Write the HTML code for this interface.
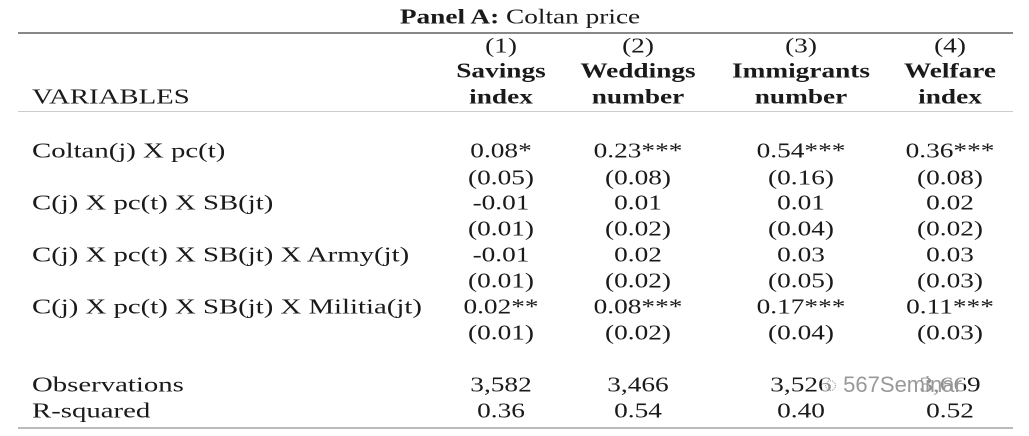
<!DOCTYPE html>
<html><head><meta charset="utf-8"><style>
body{margin:0;width:1029px;height:436px;background:#fff;overflow:hidden;position:relative;font-family:"Liberation Serif",serif;color:#1a1a1a;font-size:21px}
.t{position:absolute;white-space:nowrap;line-height:1;transform:translate(-50%,-50%) scaleX(1.3)}
.l{position:absolute;white-space:nowrap;line-height:1;transform:translateY(-50%) scaleX(1.37);transform-origin:0 50%;left:32px}
.b{font-weight:bold}
.hr{position:absolute;left:18px;width:995px;background:#888}
</style></head><body>
<div class="t" style="left:520px;top:17px"><span class="b">Panel A:</span> Coltan price</div>
<div class="hr" style="top:32px;height:2px"></div>
<div class="hr" style="top:111px;height:1px;background:#ccc"></div>
<div class="hr" style="top:427px;height:2px;background:#bbb"></div>
<div class="l" style="top:97px">VARIABLES</div>
<div class="t" style="left:501px;top:46px">(1)</div>
<div class="t b" style="left:501px;top:71px">Savings</div>
<div class="t b" style="left:501px;top:97px">index</div>
<div class="t" style="left:638px;top:46px">(2)</div>
<div class="t b" style="left:638px;top:71px">Weddings</div>
<div class="t b" style="left:638px;top:97px">number</div>
<div class="t" style="left:801px;top:46px">(3)</div>
<div class="t b" style="left:801px;top:71px">Immigrants</div>
<div class="t b" style="left:801px;top:97px">number</div>
<div class="t" style="left:950px;top:46px">(4)</div>
<div class="t b" style="left:950px;top:71px">Welfare</div>
<div class="t b" style="left:950px;top:97px">index</div>

<div class="l" style="top:151px">Coltan(j) X pc(t)</div>
<div class="t" style="left:501px;top:151px">0.08*</div>
<div class="t" style="left:638px;top:151px">0.23***</div>
<div class="t" style="left:801px;top:151px">0.54***</div>
<div class="t" style="left:950px;top:151px">0.36***</div>
<div class="t" style="left:501px;top:178px">(0.05)</div>
<div class="t" style="left:638px;top:178px">(0.08)</div>
<div class="t" style="left:801px;top:178px">(0.16)</div>
<div class="t" style="left:950px;top:178px">(0.08)</div>

<div class="l" style="top:203px">C(j) X pc(t) X SB(jt)</div>
<div class="t" style="left:501px;top:203px">-0.01</div>
<div class="t" style="left:638px;top:203px">0.01</div>
<div class="t" style="left:801px;top:203px">0.01</div>
<div class="t" style="left:950px;top:203px">0.02</div>
<div class="t" style="left:501px;top:229px">(0.01)</div>
<div class="t" style="left:638px;top:229px">(0.02)</div>
<div class="t" style="left:801px;top:229px">(0.04)</div>
<div class="t" style="left:950px;top:229px">(0.02)</div>

<div class="l" style="top:255px">C(j) X pc(t) X SB(jt) X Army(jt)</div>
<div class="t" style="left:501px;top:255px">-0.01</div>
<div class="t" style="left:638px;top:255px">0.02</div>
<div class="t" style="left:801px;top:255px">0.03</div>
<div class="t" style="left:950px;top:255px">0.03</div>
<div class="t" style="left:501px;top:281px">(0.01)</div>
<div class="t" style="left:638px;top:281px">(0.02)</div>
<div class="t" style="left:801px;top:281px">(0.05)</div>
<div class="t" style="left:950px;top:281px">(0.03)</div>

<div class="l" style="top:307px">C(j) X pc(t) X SB(jt) X Militia(jt)</div>
<div class="t" style="left:501px;top:307px">0.02**</div>
<div class="t" style="left:638px;top:307px">0.08***</div>
<div class="t" style="left:801px;top:307px">0.17***</div>
<div class="t" style="left:950px;top:307px">0.11***</div>
<div class="t" style="left:501px;top:333px">(0.01)</div>
<div class="t" style="left:638px;top:333px">(0.02)</div>
<div class="t" style="left:801px;top:333px">(0.04)</div>
<div class="t" style="left:950px;top:333px">(0.03)</div>

<div class="l" style="top:385px">Observations</div>
<div class="t" style="left:501px;top:385px">3,582</div>
<div class="t" style="left:638px;top:385px">3,466</div>
<div class="t" style="left:801px;top:385px">3,526</div>
<div class="t" style="left:950px;top:385px">3,669</div>
<div class="l" style="top:411px">R-squared</div>
<div class="t" style="left:501px;top:411px">0.36</div>
<div class="t" style="left:638px;top:411px">0.54</div>
<div class="t" style="left:801px;top:411px">0.40</div>
<div class="t" style="left:950px;top:411px">0.52</div>
<div style="position:absolute;left:822px;top:373px;font-family:'Liberation Sans',sans-serif;font-size:22px;color:#999;background:rgba(255,255,255,0.5);line-height:24px;padding:0 2px">◌ 567Seminar</div>
</body></html>
